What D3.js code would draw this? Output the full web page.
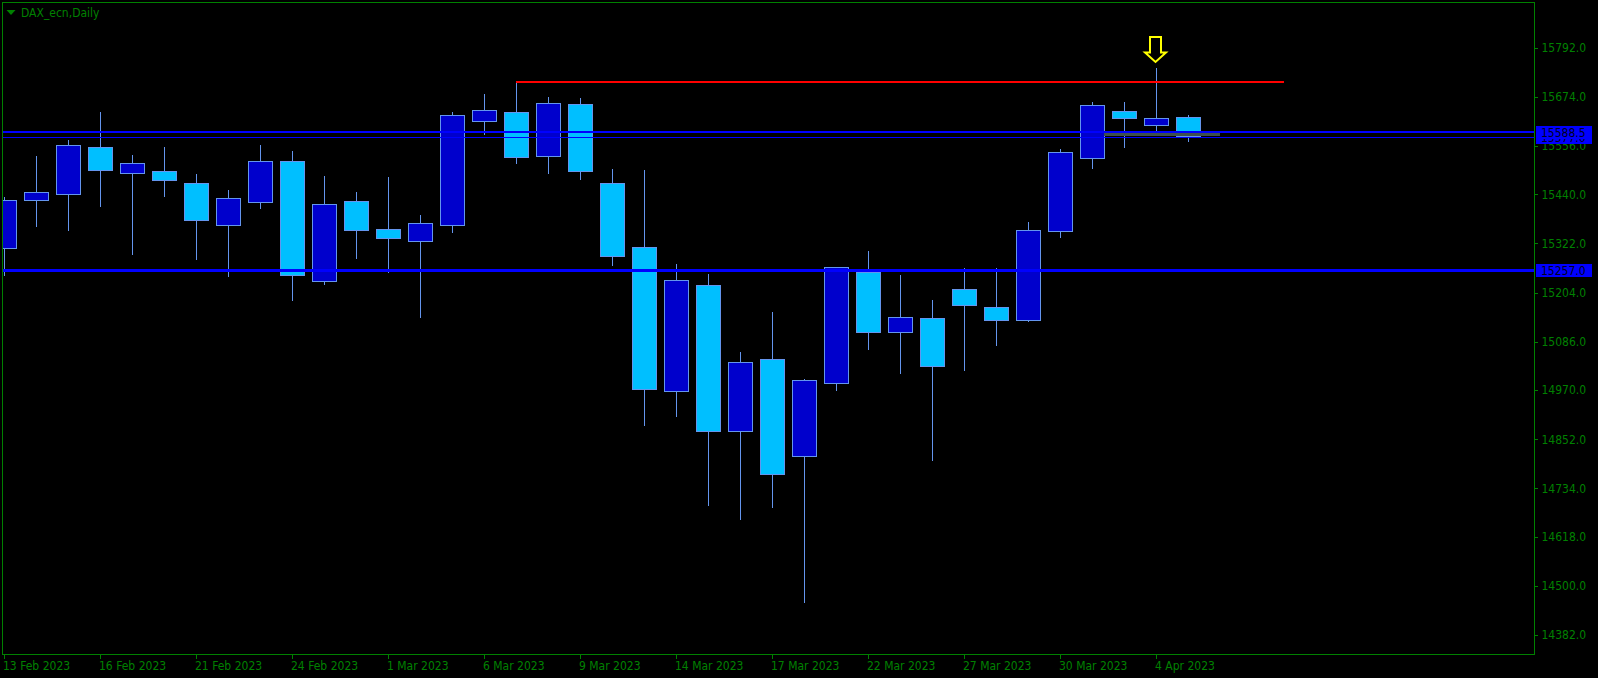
<!DOCTYPE html>
<html><head><meta charset="utf-8">
<script src="https://cdn.jsdelivr.net/npm/d3@7/dist/d3.min.js"></script>
<style>
html,body{margin:0;padding:0;background:#000;}
svg{display:block;}
text{font-family:"DejaVu Sans Condensed","DejaVu Sans",sans-serif;}
</style></head>
<body>
<script>
// ---- data ----
const dates = ["13 Feb","14 Feb","15 Feb","16 Feb","17 Feb","20 Feb","21 Feb","22 Feb","23 Feb","24 Feb","27 Feb","28 Feb",
  "1 Mar","2 Mar","3 Mar","6 Mar","7 Mar","8 Mar","9 Mar","10 Mar","13 Mar","14 Mar","15 Mar","16 Mar","17 Mar",
  "20 Mar","21 Mar","22 Mar","23 Mar","24 Mar","27 Mar","28 Mar","29 Mar","30 Mar","31 Mar","3 Apr","4 Apr","5 Apr"];
const opens  = [15310.4,15425.6,15440.0,15552.9,15490.5,15495.3,15466.4,15365.6,15420.8,15519.3,15231.2,15423.2,
  15356.0,15327.2,15365.6,15615.3,15636.9,15530.3,15656.1,15466.4,15313.5,14967.1,15221.6,14871.0,15043.9,
  14811.0,14986.3,15251.1,15108.7,15142.3,15212.0,15168.8,15137.5,15351.2,15526.5,15640.0,15605.7,15625.6];
const highs  = [15432.8,15532.0,15570.4,15637.6,15534.4,15553.6,15488.8,15450.4,15558.4,15544.0,15484.0,15445.6,
  15481.6,15390.3,15637.6,15680.8,15709.7,15673.6,15671.2,15500.8,15498.4,15272.7,15248.7,15061.4,15157.5,
  14996.6,15265.5,15304.0,15246.3,15186.3,15263.1,15263.1,15373.5,15548.8,15661.6,15661.6,15742.5,15630.4];
const lows   = [15243.9,15362.3,15352.6,15410.3,15295.1,15434.3,15283.0,15242.2,15405.5,15184.6,15223.0,15285.4,
  15251.8,15143.8,15347.9,15583.1,15513.5,15489.5,15475.1,15268.6,14884.5,14906.1,14692.4,14658.8,14687.6,
  14459.6,14968.5,15067.0,15009.3,14800.5,15016.5,15076.6,15134.2,15335.8,15501.5,15551.9,15584.1,15566.3];
const closes = [15425.6,15444.8,15557.7,15497.7,15514.5,15473.6,15377.6,15430.4,15519.3,15244.6,15416.0,15353.6,
  15334.4,15370.4,15630.4,15641.7,15527.9,15658.5,15494.3,15290.2,14970.9,15233.6,14871.0,15036.7,14767.8,
  14993.5,15264.8,15107.8,15144.7,15027.1,15173.6,15137.5,15353.6,15540.9,15653.7,15621.5,15622.5,15578.3];
const yTicks = [15792,15674,15556,15440,15322,15204,15086,14970,14852,14734,14618,14500,14382];
const xTickIdx = [0,3,6,9,12,15,18,21,24,27,30,33,36];
const xTickLabels = ["13 Feb 2023","16 Feb 2023","21 Feb 2023","24 Feb 2023","1 Mar 2023","6 Mar 2023","9 Mar 2023",
  "14 Mar 2023","17 Mar 2023","22 Mar 2023","27 Mar 2023","30 Mar 2023","4 Apr 2023"];
const hLines = [15588.5, 15577.0, 15257.0];
const redLevel = 15709.7, redFrom = 16, redTo = 40;
const grayLevel = 15584.1, grayFrom = 34, grayTo = 38;
const arrowIdx = 36;
const title = "DAX_ecn,Daily";

const W = 1598, H = 678;
const L = 2.5, T = 2.5, R = 1534.5, B = 654.5;
const GREEN = "#008000";

const svg = d3.select("body").append("svg").attr("width", W).attr("height", H)
  .style("background", "#000");

const x = d3.scaleLinear().domain([0, 37]).range([3.5, 3.5 + 32 * 37]);
const y = d3.scaleLinear().domain([14382, 15792]).range([635, 47.7]);

svg.append("defs").append("clipPath").attr("id", "plot")
  .append("rect").attr("x", 3).attr("y", 3).attr("width", R - 3.5).attr("height", B - 3.5);

const plot = svg.append("g").attr("clip-path", "url(#plot)").attr("shape-rendering", "crispEdges");

const bars = dates.map((d, i) => ({i, o: opens[i], h: highs[i], l: lows[i], c: closes[i]}));

// wicks
plot.selectAll("line.wick").data(bars).join("line").attr("class", "wick")
  .attr("x1", d => Math.round(x(d.i)) + 0.5).attr("x2", d => Math.round(x(d.i)) + 0.5)
  .attr("y1", d => y(d.h)).attr("y2", d => y(d.l))
  .attr("stroke", "#6495ED").attr("stroke-width", 1);

// bodies
plot.selectAll("rect.body").data(bars).join("rect").attr("class", "body")
  .attr("x", d => Math.round(x(d.i)) - 11.5)
  .attr("width", 24)
  .attr("y", d => y(Math.max(d.o, d.c)))
  .attr("height", d => Math.max(1, Math.abs(y(d.o) - y(d.c))))
  .attr("fill", d => d.c >= d.o ? "#0000CC" : "#00BFFF")
  .attr("stroke", "#6495ED").attr("stroke-width", 1);

// gray segment
plot.append("line")
  .attr("x1", x(grayFrom) + 12).attr("x2", x(grayTo))
  .attr("y1", y(grayLevel)).attr("y2", y(grayLevel))
  .attr("stroke", "#3d4f4f").attr("stroke-width", 3);

// horizontal blue lines
const hw = [2, 1, 3];
hLines.forEach((v, k) => {
  plot.append("line").attr("x1", 3).attr("x2", R)
    .attr("y1", y(v)).attr("y2", y(v))
    .attr("stroke", "#0000FF").attr("stroke-width", hw[k]);
});

// red line
plot.append("line")
  .attr("x1", x(redFrom)).attr("x2", x(redTo))
  .attr("y1", y(redLevel)).attr("y2", y(redLevel))
  .attr("stroke", "#FF0000").attr("stroke-width", 2);

// arrow
const ax = x(arrowIdx), at = 37, ab = 62;
const arrowPts = [[ax-5.5,at],[ax+5.5,at],[ax+5.5,at+15.5],[ax+10.5,at+15.5],[ax,ab],[ax-10.5,at+15.5],[ax-5.5,at+15.5]];
svg.append("polygon").attr("points", arrowPts.map(p => p.join(",")).join(" "))
  .attr("fill", "#000").attr("stroke", "#FFFF00").attr("stroke-width", 2).attr("stroke-linejoin", "miter");

// frame
svg.append("rect").attr("x", L).attr("y", T).attr("width", R - L).attr("height", B - T)
  .attr("fill", "none").attr("stroke", GREEN).attr("stroke-width", 1).attr("shape-rendering", "crispEdges");

// right axis
const yAxis = d3.axisRight(y).tickValues(yTicks).tickSize(3).tickPadding(4).tickFormat(d3.format(".1f"));
const gy = svg.append("g").attr("transform", `translate(${R},0)`).call(yAxis);
gy.select(".domain").remove();
gy.selectAll("line").attr("stroke", GREEN).attr("shape-rendering", "crispEdges");
gy.selectAll("text").attr("fill", GREEN).style("font-size", "12px");

// bottom axis
const xAxis = d3.axisBottom(x).tickValues(xTickIdx).tickSize(4).tickPadding(3)
  .tickFormat((d, k) => xTickLabels[k]);
const gx = svg.append("g").attr("transform", `translate(0,${B})`).call(xAxis);
gx.select(".domain").remove();
gx.selectAll("line").attr("stroke", GREEN).attr("shape-rendering", "crispEdges");
gx.selectAll("text").attr("fill", GREEN).style("font-size", "12px").attr("text-anchor", "start").attr("x", -1);

// price labels (draw lower first)
const labelOrder = [1, 0, 2];
labelOrder.forEach(k => {
  const v = hLines[k];
  const cy = y(v);
  svg.append("rect").attr("x", 1536).attr("y", cy - 6.5).attr("width", 56).attr("height", 13)
    .attr("fill", "#0000FF").attr("shape-rendering", "crispEdges");
  svg.append("text").attr("x", 1541).attr("y", cy).attr("dy", "0.36em")
    .attr("fill", "#000022").style("font-size", "12px").text(d3.format(".1f")(v));
});

// title
svg.append("polygon").attr("points", "6.5,10 15.5,10 11,15").attr("fill", GREEN);
svg.append("text").attr("x", 21).attr("y", 17).attr("fill", GREEN).style("font-size", "12px").text(title);
</script>
</body></html>
